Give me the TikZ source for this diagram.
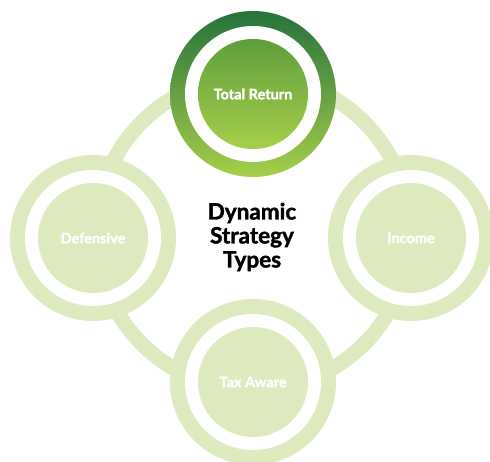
\documentclass[tikz,border=0pt]{standalone}
\usepackage{fontspec}
\setmainfont{Lato}
\newfontfamily\heavyfont[FakeBold=1.6]{Lato}
\usepackage{xcolor}
\definecolor{leaf}{HTML}{DDEBBF}
\definecolor{darkleaf}{HTML}{25733A}
\definecolor{midleaf}{HTML}{5E9E3C}
\definecolor{lime}{HTML}{A6CF4A}

\begin{document}
\begin{tikzpicture}[x=1pt, y=-1pt, every node/.style={circle, inner sep=0pt},%
        halo/.style={minimum size=166pt, fill=leaf}, gap/.style={minimum size=136pt, fill=white},%
        core/.style={minimum size=110pt, fill=leaf, text=white, font=\heavyfont\bfseries\fontsize{14.5}{16}\selectfont},%
        tophalo/.style={minimum size=166pt, top color=darkleaf, middle color=lime, bottom color=lime},%
        topcore/.style={core, top color=midleaf, middle color=lime, bottom color=lime}]
        \useasboundingbox (0,0) rectangle (490,462);
        \clip (0,0) rectangle (490,462);
        % ring behind the four types
        \coordinate (hub) at (253,233);
        \draw[leaf, line width=15pt] (hub) circle [radius=157pt];
        % total return
        \node[tophalo] (returnhalo) at (253,94) {};
        \node[gap] (returngap) at (returnhalo) {};
        \node[topcore] (return) at (returnhalo) {Total Return};
        % defensive
        \node[halo] (defhalo) at (93,238) {};
        \node[gap] (defgap) at (defhalo) {};
        \node[core] (defensive) at (defhalo) {Defensive};
        % income
        \node[halo] (inchalo) at (411,238) {};
        \node[gap] (incgap) at (inchalo) {};
        \node[core] (income) at (inchalo) {Income};
        % tax aware
        \node[halo] (taxhalo) at (253,382) {};
        \node[gap] (taxgap) at (taxhalo) {};
        \node[core] (tax) at (taxhalo) {Tax Aware};
        % title
        \node[align=center, font=\heavyfont\bfseries\fontsize{22.5}{24}\selectfont] (title) at (252,237) {Dynamic\\Strategy\\Types};
    \end{tikzpicture}
\end{document}
